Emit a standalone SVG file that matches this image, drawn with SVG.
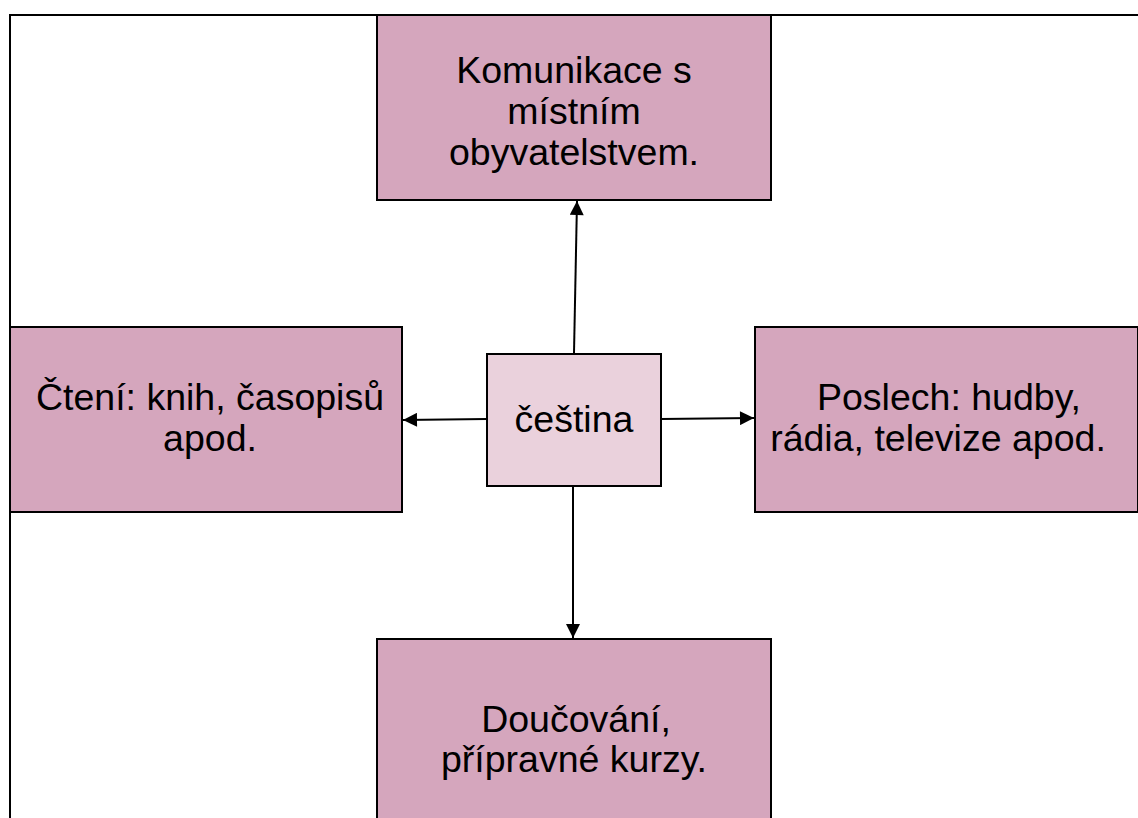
<svg xmlns="http://www.w3.org/2000/svg" width="1138" height="818" viewBox="0 0 1138 818">
  <style>
    .frame { fill: none; stroke: #000; stroke-width: 2; }
    .box { fill: #D5A6BD; stroke: #000; stroke-width: 2; }
    .core { fill: #EAD1DC; stroke: #000; stroke-width: 2; }
    .label { font-family: "Liberation Sans", Arial, sans-serif; font-size: 37.5px; fill: #000; text-anchor: middle; }
    .link { stroke: #000; stroke-width: 2; fill: none; marker-end: url(#head); }
  </style>
  <defs>
    <marker id="head" viewBox="0 0 10 10" refX="10" refY="5" markerWidth="8" markerHeight="7" markerUnits="strokeWidth" orient="auto">
      <path d="M0,0 L10,5 L0,10 z" fill="#000"/>
    </marker>
  </defs>
  <rect width="1138" height="818" fill="#fff"/>

  <!-- outer frame -->
  <path class="frame" d="M10,818 V15 H1138"/>

  <g id="node-komunikace">
    <rect class="box" x="377" y="15" width="394" height="185"/>
    <text class="label" x="574" y="83">Komunikace s</text>
    <text class="label" x="574" y="124">místním</text>
    <text class="label" x="574" y="165">obyvatelstvem.</text>
  </g>

  <g id="node-cteni">
    <rect class="box" x="10" y="327" width="392" height="185"/>
    <text class="label" x="210" y="410">Čtení: knih, časopisů</text>
    <text class="label" x="210" y="451">apod.</text>
  </g>

  <g id="node-poslech">
    <rect class="box" x="755" y="327" width="383" height="185"/>
    <text class="label" x="949" y="410">Poslech: hudby,</text>
    <text class="label" x="938" y="451">rádia, televize apod.</text>
  </g>

  <g id="node-doucovani">
    <rect class="box" x="377" y="639" width="394" height="190"/>
    <text class="label" x="576" y="732">Doučování,</text>
    <text class="label" x="574" y="772">přípravné kurzy.</text>
  </g>

  <g id="node-cestina">
    <rect class="core" x="487" y="354" width="174" height="132"/>
    <text class="label" x="574" y="432">čeština</text>
  </g>

  <g id="connectors">
    <line class="link" x1="574" y1="353" x2="577" y2="201"/>
    <line class="link" x1="487" y1="419" x2="403" y2="420"/>
    <line class="link" x1="661" y1="419" x2="754" y2="418"/>
    <line class="link" x1="573" y1="487" x2="573" y2="638"/>
  </g>
</svg>
